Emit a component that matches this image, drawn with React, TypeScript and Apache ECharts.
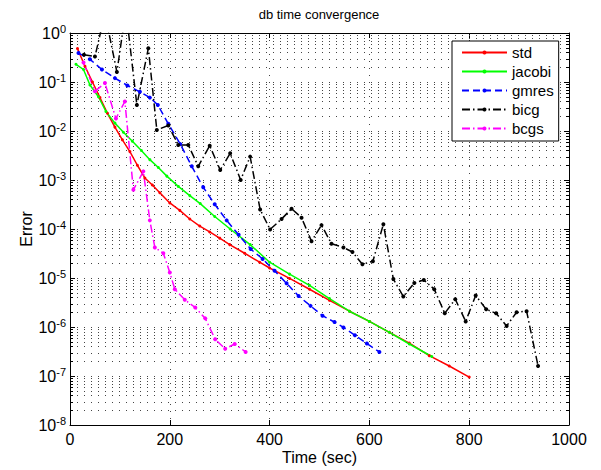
import React, { useEffect, useRef } from "react";
import * as echarts from "echarts";

// ---- data ----
const stdTime = [15, 30, 45, 60, 75, 90, 105, 120, 135, 150, 165, 180, 200, 220, 240, 260, 280, 300, 320, 350, 380, 400, 440, 480, 520, 560, 600, 640, 680, 720, 760, 800];
const stdErr = [0.48, 0.21, 0.1, 0.048, 0.023, 0.012, 0.0066, 0.0038, 0.002, 0.0011, 7.9e-4, 5.5e-4, 3.4e-4, 2.4e-4, 1.6e-4, 1.15e-4, 8.7e-5, 6.5e-5, 4.8e-5, 3.2e-5, 2.1e-5, 1.6e-5, 9.8e-6, 5.9e-6, 3.5e-6, 2.1e-6, 1.3e-6, 7.8e-7, 4.7e-7, 2.6e-7, 1.6e-7, 9.5e-8];

const jacobiTime = [12, 27, 40, 57, 72, 90, 107, 125, 143, 160, 177, 194, 217, 240, 261, 290, 321, 361, 400, 440, 480, 520, 560, 600, 640, 680, 725];
const jacobiErr = [0.23, 0.18, 0.087, 0.05, 0.025, 0.0145, 0.0094, 0.0062, 0.004, 0.0026, 0.0018, 0.0012, 7.4e-4, 4.8e-4, 3.3e-4, 1.8e-4, 1.0e-4, 4.8e-5, 2.1e-5, 1.2e-5, 7.1e-6, 3.8e-6, 2.1e-6, 1.3e-6, 7.8e-7, 4.5e-7, 2.5e-7];

const gmresTime = [17, 40, 64, 90, 115, 140, 160, 176, 197, 221, 244, 267, 290, 314, 338, 362, 386, 410, 434, 458, 482, 506, 530, 548, 571, 595, 620];
const gmresErr = [0.39, 0.29, 0.18, 0.12, 0.085, 0.063, 0.048, 0.034, 0.014, 0.0054, 0.0019, 7.1e-4, 3.2e-4, 1.5e-4, 7.6e-5, 3.9e-5, 2.45e-5, 1.4e-5, 7.8e-6, 4.3e-6, 2.7e-6, 1.7e-6, 1.26e-6, 9.8e-7, 6.8e-7, 4.6e-7, 3.1e-7];

const bicgTime = [28, 50, 70, 94, 112, 134, 157, 174, 197, 217, 237, 257, 280, 301, 321, 342, 361, 381, 401, 424, 444, 464, 484, 504, 524, 548, 566, 586, 607, 628, 648, 668, 690, 709, 730, 751, 772, 793, 813, 834, 854, 875, 895, 915, 938];
const bicgErr = [0.36, 0.33, 2.5, 0.16, 3.0, 0.034, 0.49, 0.0105, 0.013, 0.0052, 0.0052, 0.0019, 0.005, 0.0016, 0.0035, 0.001, 0.003, 2.5e-4, 9.8e-5, 1.6e-4, 2.6e-4, 1.7e-4, 5.6e-5, 1.2e-4, 5.0e-5, 4.2e-5, 3.4e-5, 1.9e-5, 2.2e-5, 1.25e-4, 9.5e-6, 4.2e-6, 7.9e-6, 9.1e-6, 5.9e-6, 1.9e-6, 3.7e-6, 1.3e-6, 4.4e-6, 2.3e-6, 1.9e-6, 1.05e-6, 2.0e-6, 2.1e-6, 1.6e-7];

const bcgsTime = [27, 50, 70, 92, 110, 127, 147, 160, 170, 187, 200, 210, 230, 251, 271, 291, 311, 330, 352];
const bcgsErr = [0.25, 0.065, 0.095, 0.018, 0.04, 6.3e-4, 1.5e-3, 1.5e-4, 4.2e-5, 3.2e-5, 1.3e-5, 5.9e-6, 3.6e-6, 2.5e-6, 1.5e-6, 5.6e-7, 3.6e-7, 4.5e-7, 3.1e-7];

const seriesNames = ["std", "jacobi", "gmres", "bicg", "bcgs"];
const xTickValues = [0, 200, 400, 600, 800, 1000];
const decadeExps = [-8, -7, -6, -5, -4, -3, -2, -1];
const minorMultipliers = [2, 3, 4, 5, 6, 7, 8, 9];

const FONT = "'Liberation Sans', Arial, Helvetica, sans-serif";
const GRID_COLOR = "#444";
const DOT = [1, 6];

const zip = (a: number[], b: number[]) => a.map((v, i) => [v, b[i]]);

export default function App() {
  const ref = useRef<HTMLDivElement>(null);
  useEffect(() => {
    if (!ref.current) return;
    const chart = echarts.init(ref.current, undefined, { renderer: "svg" });
    const yMinor: number[][] = [];
    decadeExps.forEach((e) => minorMultipliers.forEach((m) => yMinor.push([0, m * Math.pow(10, e)])));

    const mkLine = (name: string, t: number[], v: number[], color: string, type: any, size = 4) => ({
      name,
      type: "line",
      data: zip(t, v),
      xAxisIndex: 0,
      yAxisIndex: 0,
      symbol: "circle",
      symbolSize: size,
      showSymbol: true,
      clip: true,
      z: 5,
      lineStyle: { color, width: 1.5, type },
      itemStyle: { color },
      emphasis: { disabled: true },
    });

    const option: any = {
      animation: false,
      backgroundColor: "#fff",
      grid: { left: 70, right: 32, top: 33, bottom: 44, containLabel: false },
      graphic: [
        {
          type: "text",
          x: 319,
          y: 8,
          style: { text: "db time convergence", textAlign: "center", fontSize: 13, fontFamily: FONT, fill: "#000" },
        },
      ],
      legend: {
        data: seriesNames,
        orient: "vertical",
        left: 452,
        top: 41,
        padding: [4, 5, 5, 9],
        itemWidth: 45,
        itemHeight: 5,
        itemGap: 4,
        borderColor: "#000",
        borderWidth: 1,
        borderRadius: 0,
        backgroundColor: "#fff",
        textStyle: { fontSize: 15, fontFamily: FONT, color: "#000" },
        selectedMode: false,
      },
      xAxis: [
        {
          type: "value",
          min: 0,
          max: 1000,
          interval: 200,
          position: "bottom",
          name: "Time (sec)",
          nameLocation: "middle",
          nameGap: 24,
          nameMoveOverlap: false,
          nameTextStyle: { fontSize: 16, fontFamily: FONT, color: "#000" },
          axisLine: { show: true, onZero: false, lineStyle: { color: "#000", width: 1 } },
          axisTick: { show: true, inside: true, length: 5, lineStyle: { color: "#000" } },
          axisLabel: { fontSize: 16, fontFamily: FONT, color: "#000", margin: 6, formatter: (v: number) => (xTickValues.includes(v) ? String(v) : "") },
          splitLine: { show: true, lineStyle: { color: GRID_COLOR, type: DOT, width: 1 } },
        },
        {
          type: "value",
          min: 0,
          max: 1000,
          interval: 200,
          position: "top",
          axisLine: { show: true, onZero: false, lineStyle: { color: "#000", width: 1 } },
          axisTick: { show: true, inside: true, length: 5, lineStyle: { color: "#000" } },
          axisLabel: { show: false },
          splitLine: { show: false },
        },
      ],
      yAxis: [
        {
          type: "log",
          logBase: 10,
          min: 1e-8,
          max: 1,
          splitNumber: 10,
          position: "left",
          name: "Error",
          nameLocation: "middle",
          nameGap: 36,
          nameMoveOverlap: false,
          nameTextStyle: { fontSize: 16, fontFamily: FONT, color: "#000" },
          axisLine: { show: true, onZero: false, lineStyle: { color: "#000", width: 1 } },
          axisTick: { show: true, inside: true, length: 5, lineStyle: { color: "#000" } },
          axisLabel: {
            margin: 4,
            formatter: (v: number) => `{b|10}{s|${Math.round(Math.log10(v))}}`,
            rich: {
              b: { fontSize: 16, fontFamily: FONT, color: "#000" },
              s: { fontSize: 11, fontFamily: FONT, color: "#000", padding: [0, 0, 9, 0] },
            },
          },
          splitLine: { show: true, lineStyle: { color: GRID_COLOR, type: DOT, width: 1 } },
        },
        {
          type: "log",
          logBase: 10,
          min: 1e-8,
          max: 1,
          splitNumber: 10,
          position: "right",
          axisLine: { show: true, onZero: false, lineStyle: { color: "#000", width: 1 } },
          axisTick: { show: true, inside: true, length: 5, lineStyle: { color: "#000" } },
          axisLabel: { show: false },
          splitLine: { show: false },
        },
      ],
      series: [
        {
          name: "minorgrid",
          type: "custom",
          coordinateSystem: "cartesian2d",
          xAxisIndex: 0,
          yAxisIndex: 0,
          silent: true,
          z: 1,
          encode: { x: 0, y: 1 },
          data: yMinor,
          renderItem: (params: any, api: any) => {
            const v = api.value(1);
            const p = api.coord([0, v]);
            const cs = params.coordSys;
            const x0 = cs.x;
            const x1 = cs.x + cs.width;
            const y = Math.round(p[1]) + 0.5;
            return {
              type: "group",
              children: [
                { type: "line", shape: { x1: x0, y1: y, x2: x1, y2: y }, style: { stroke: GRID_COLOR, lineWidth: 1, lineDash: DOT } },
                { type: "line", shape: { x1: x0, y1: y, x2: x0 + 3, y2: y }, style: { stroke: "#000", lineWidth: 1 } },
                { type: "line", shape: { x1: x1 - 3, y1: y, x2: x1, y2: y }, style: { stroke: "#000", lineWidth: 1 } },
              ],
            };
          },
        },
        mkLine("std", stdTime, stdErr, "#ff0000", "solid", 3),
        mkLine("jacobi", jacobiTime, jacobiErr, "#00ff00", "solid", 3),
        mkLine("gmres", gmresTime, gmresErr, "#0000ff", [7, 4]),
        mkLine("bicg", bicgTime, bicgErr, "#000000", [8, 3, 1.5, 3]),
        mkLine("bcgs", bcgsTime, bcgsErr, "#ff00ff", [8, 3, 1.5, 3]),
      ],
    };
    chart.setOption(option);
    return () => chart.dispose();
  }, []);
  return (
    <div
      ref={ref}
      style={{ position: "fixed", left: 0, top: 0, width: 601, height: 470, background: "#fff" }}
    />
  );
}
